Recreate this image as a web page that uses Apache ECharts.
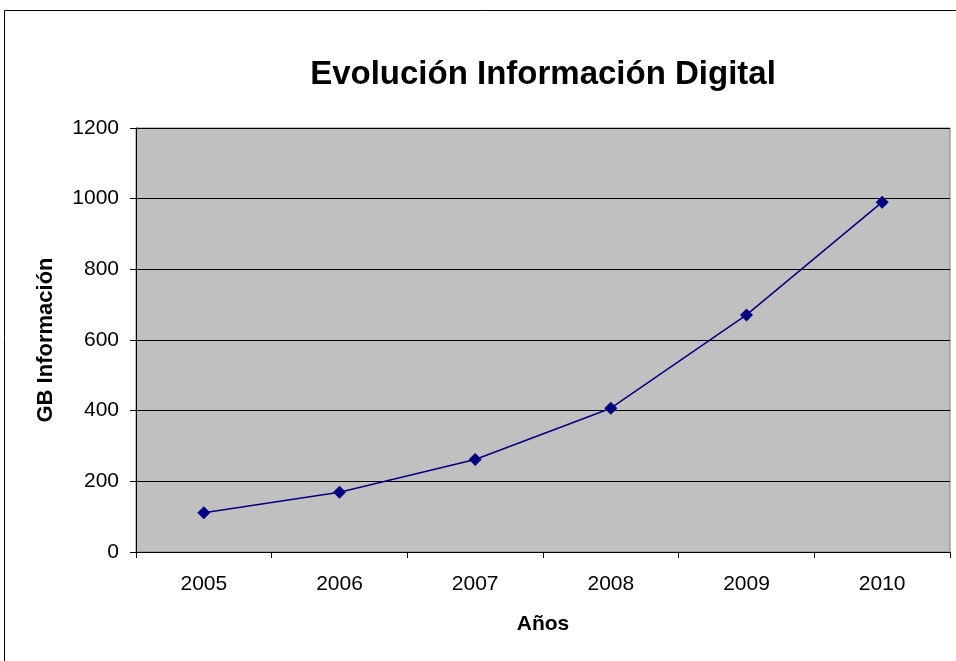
<!DOCTYPE html>
<html>
<head>
<meta charset="utf-8">
<script src="https://cdn.jsdelivr.net/npm/echarts@6/dist/echarts.min.js"></script>
<style>
  html, body { margin: 0; padding: 0; background: #fff; }
  #chart { width: 956px; height: 661px; }
</style>
</head>
<body>
<div id="chart"></div>
<script>
// Años y volumen de información digital (GB)
const years = ['2005', '2006', '2007', '2008', '2009', '2010'];
const gbValues = [111, 169, 262, 407, 671, 990];
const yTicks = [0, 200, 400, 600, 800, 1000, 1200];

const chart = echarts.init(document.getElementById('chart'));
const font = '"Liberation Sans", Arial, sans-serif';

chart.setOption({
  animation: false,
  backgroundColor: '#ffffff',
  title: {
    text: 'Evolución Información Digital',
    left: 538,
    top: 53,
    textAlign: 'center',
    textStyle: { fontFamily: font, fontSize: 33, fontWeight: 'bold', color: '#000' }
  },
  graphic: [{
    type: 'rect',
    shape: { x: 4.5, y: 10.5, width: 960, height: 660 },
    style: { fill: 'none', stroke: '#000', lineWidth: 1 },
    silent: true
  }],
  grid: {
    left: 136, top: 128, width: 814, height: 424,
    show: true, backgroundColor: '#c0c0c0', borderColor: '#808080', borderWidth: 1
  },
  xAxis: {
    type: 'category',
    data: years,
    boundaryGap: true,
    name: 'Años',
    nameLocation: 'middle',
    nameGap: 62,
    nameTextStyle: { fontFamily: font, fontSize: 21, fontWeight: 'bold', color: '#000' },
    axisLine: { lineStyle: { color: '#000', width: 1 } },
    axisTick: { show: true, length: 6, inside: false, lineStyle: { color: '#000' } },
    axisLabel: { fontFamily: font, fontSize: 21, color: '#000', margin: 22 },
    splitLine: { show: false }
  },
  yAxis: {
    type: 'value',
    min: yTicks[0],
    max: yTicks[yTicks.length - 1],
    interval: yTicks[1] - yTicks[0],
    name: 'GB Información',
    nameLocation: 'middle',
    nameGap: 79,
    nameTextStyle: { fontFamily: font, fontSize: 22, fontWeight: 'bold', color: '#000' },
    axisLine: { show: true, lineStyle: { color: '#000', width: 1 } },
    axisTick: { show: true, length: 6, lineStyle: { color: '#000' } },
    axisLabel: { fontFamily: font, fontSize: 21, color: '#000', margin: 17, formatter: v => String(v) },
    splitLine: { show: true, lineStyle: { color: '#000', width: 1 } }
  },
  series: [{
    type: 'line',
    data: gbValues,
    symbol: 'diamond',
    symbolSize: 13,
    lineStyle: { color: '#000080', width: 1.5 },
    itemStyle: { color: '#000080' },
    z: 5
  }]
});
</script>
</body>
</html>
